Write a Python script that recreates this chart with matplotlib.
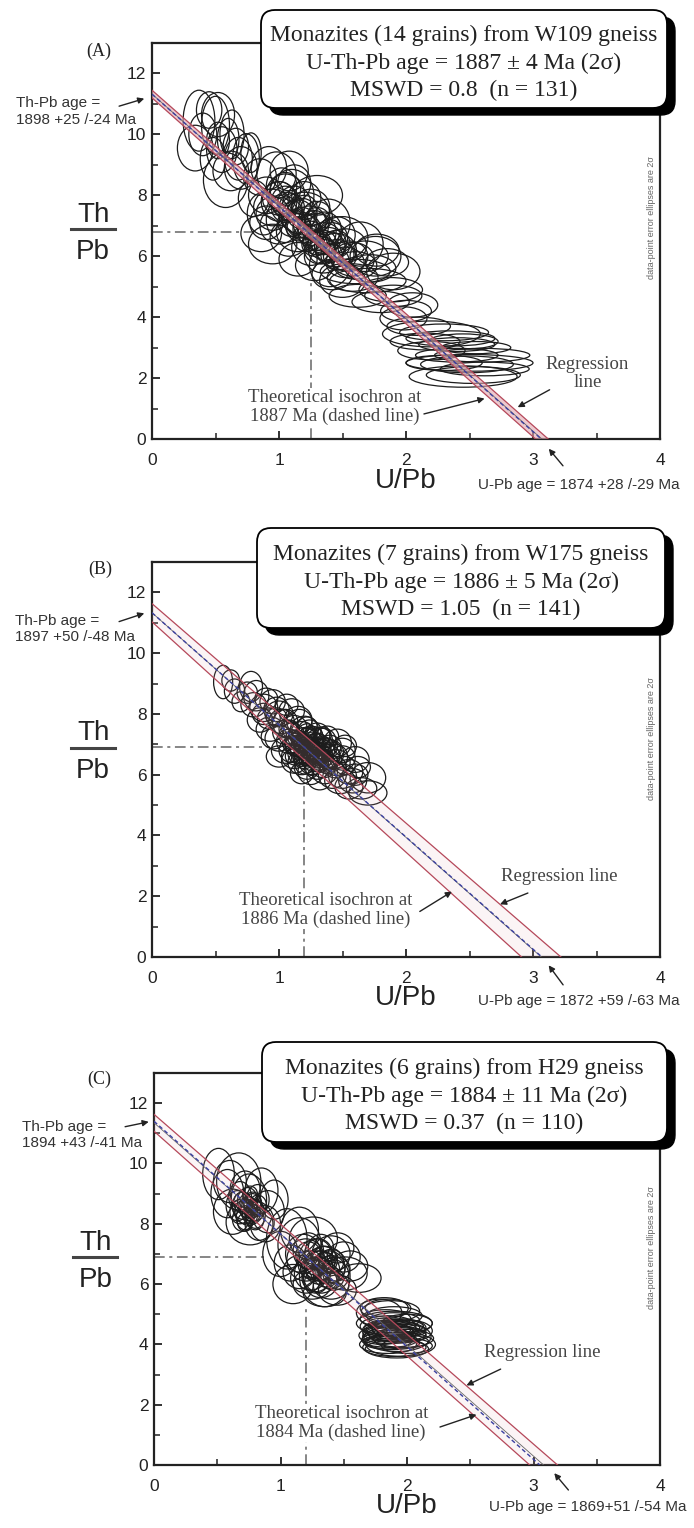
import matplotlib
matplotlib.use("Agg")
import matplotlib.pyplot as plt
from matplotlib.patches import Ellipse, FancyBboxPatch
from matplotlib.transforms import IdentityTransform

SERIF = "Liberation Serif"
SANS = "Liberation Sans"
W, H = 694, 1528

# ---- panel A: W109 gneiss, 2-sigma ellipses (centre x, centre y, full width, full height)
a_cx = [0.37, 0.52, 0.50, 0.63, 0.60, 0.34, 0.58, 0.74, 0.78, 0.66, 0.48, 0.98, 1.08, 0.90, 1.00, 1.10,
        1.20, 1.30, 0.86, 0.95, 0.88, 1.05, 1.15, 1.39, 1.50, 1.64, 1.76, 1.90, 1.40, 1.15, 1.50, 1.25,
        1.35, 1.45, 1.20, 1.02, 1.28, 1.55, 1.77, 1.60, 1.70, 1.62, 1.80, 1.98, 2.30, 2.40, 2.20, 2.30,
        2.48, 2.53, 2.55, 2.50, 2.45, 2.20, 2.45, 2.05, 1.88, 0.70, 1.10, 1.40, 1.32, 1.18, 1.05, 1.48, 0.80,
        0.45, 0.40, 0.55, 0.68, 0.62, 0.52, 0.85, 0.92, 1.12, 0.95, 1.05, 1.15, 1.00, 0.90, 1.25, 1.08,
        1.30, 1.38, 1.45, 1.52, 1.58, 1.35, 1.28, 1.42, 1.68, 1.72, 1.58, 1.85, 1.30, 1.22, 2.00, 1.90,
        2.10, 2.35, 2.60, 2.40, 2.62, 2.15,
        1.00, 1.06, 1.12, 1.18, 1.24, 1.30, 1.36, 1.42, 1.10, 1.16, 1.22, 1.28, 1.34, 1.40, 1.46, 1.05,
        0.95, 1.15, 1.25, 1.35, 1.45, 1.20, 1.30, 1.52, 1.60]
a_cy = [10.45, 10.65, 10.30, 10.00, 9.85, 9.55, 8.50, 9.20, 9.40, 9.60, 9.20, 8.70, 8.80, 8.00, 7.80, 8.00,
        7.40, 8.00, 6.75, 6.40, 7.40, 7.20, 6.80, 7.10, 6.60, 6.40, 6.00, 5.50, 5.70, 5.90, 5.20, 6.30,
        6.60, 6.20, 7.90, 8.30, 7.00, 6.00, 6.20, 5.50, 5.20, 4.70, 4.50, 3.96, 3.50, 3.10, 2.90, 2.50,
        2.45, 2.10, 3.00, 2.50, 2.05, 3.45, 3.20, 4.40, 4.90, 8.90, 7.60, 6.80, 6.20, 7.10, 7.80, 6.00, 7.90,
        10.80, 10.00, 9.50, 9.20, 8.80, 9.80, 8.60, 8.90, 8.40, 7.60, 8.05, 7.30, 7.00, 7.10, 7.60, 6.60,
        6.80, 6.40, 6.70, 6.35, 5.90, 6.00, 5.70, 5.40, 6.00, 5.60, 5.30, 5.80, 6.45, 6.90, 4.20, 4.70,
        3.70, 3.30, 2.75, 2.75, 2.30, 3.20,
        7.90, 7.60, 7.75, 7.40, 7.10, 7.30, 6.90, 6.60, 7.10, 6.90, 6.60, 6.40, 6.20, 6.30, 6.05, 8.20,
        7.40, 7.00, 6.75, 6.45, 6.40, 7.60, 7.20, 5.80, 5.70]
a_w = [0.25, 0.26, 0.22, 0.19, 0.17, 0.28, 0.35, 0.21, 0.16, 0.20, 0.20, 0.31, 0.30, 0.28, 0.28, 0.35,
       0.40, 0.40, 0.32, 0.38, 0.26, 0.30, 0.34, 0.34, 0.40, 0.36, 0.40, 0.42, 0.32, 0.30, 0.36, 0.30,
       0.28, 0.32, 0.26, 0.24, 0.22, 0.30, 0.35, 0.55, 0.60, 0.45, 0.45, 0.37, 0.70, 0.60, 0.53, 0.60,
       0.73, 0.74, 0.55, 1.00, 0.85, 0.77, 0.55, 0.40, 0.50, 0.26, 0.20, 0.20, 0.24, 0.24, 0.22, 0.26, 0.24,
       0.20, 0.22, 0.24, 0.22, 0.28, 0.18, 0.26, 0.28, 0.26, 0.30, 0.30, 0.26, 0.30, 0.26, 0.30, 0.30,
       0.30, 0.30, 0.30, 0.34, 0.34, 0.30, 0.30, 0.32, 0.36, 0.40, 0.40, 0.34, 0.22, 0.22, 0.40, 0.45,
       0.50, 0.70, 0.75, 0.65, 0.70, 0.55,
       0.26, 0.24, 0.26, 0.24, 0.26, 0.24, 0.26, 0.24, 0.22, 0.20, 0.22, 0.20, 0.22, 0.24, 0.26, 0.24,
       0.26, 0.20, 0.20, 0.20, 0.22, 0.20, 0.20, 0.30, 0.34]
a_h = [2.00, 1.45, 1.90, 1.60, 1.35, 1.50, 1.80, 1.65, 1.30, 1.20, 1.40, 1.45, 1.30, 1.20, 1.30, 1.70,
       1.40, 1.30, 1.20, 1.30, 1.40, 1.50, 1.30, 1.55, 1.40, 1.45, 1.30, 1.20, 1.40, 1.10, 1.10, 1.20,
       1.00, 1.10, 1.10, 1.20, 1.00, 1.00, 1.05, 0.80, 0.80, 0.75, 0.70, 0.76, 0.55, 0.45, 0.60, 0.50,
       0.55, 0.55, 0.40, 0.55, 0.70, 0.85, 0.50, 0.80, 0.80, 1.40, 0.90, 0.80, 0.90, 1.00, 1.00, 0.90, 1.20,
       1.20, 1.40, 1.50, 1.40, 1.30, 1.20, 1.20, 1.40, 1.20, 1.20, 1.30, 1.10, 1.20, 1.10, 1.20, 1.20,
       1.20, 1.10, 1.20, 1.10, 1.10, 1.10, 1.00, 1.00, 1.00, 0.90, 0.90, 0.90, 0.80, 0.90, 0.70, 0.70,
       0.60, 0.50, 0.45, 0.45, 0.45, 0.55,
       1.10, 1.00, 1.10, 1.00, 1.10, 1.00, 1.10, 1.00, 0.90, 0.80, 0.90, 0.80, 0.90, 1.00, 1.00, 1.10,
       1.10, 0.80, 0.80, 0.80, 0.90, 0.80, 0.80, 1.00, 0.90]

# ---- panel B: W175 gneiss
b_cx = [0.56, 0.78, 0.82, 0.70, 0.88, 0.95, 0.85, 1.00, 1.05, 0.93, 1.10, 1.15, 1.00, 1.10, 1.20, 1.25,
        1.15, 1.30, 1.22, 1.35, 1.28, 1.40, 1.18, 1.35, 1.45, 1.50, 1.42, 1.55, 1.60, 1.70, 1.70, 1.55,
        1.48, 1.32, 1.25, 1.12, 1.05, 1.20, 1.25, 1.30, 1.20, 1.28, 1.33, 1.18, 1.38, 1.08, 0.98, 0.90,
        1.46, 1.52, 0.75, 1.60, 1.12, 1.23, 1.40,
        1.05, 1.12, 1.18, 1.24, 1.30, 1.08, 1.14, 1.20, 1.26, 1.32, 1.38, 1.10, 1.16, 1.22, 1.28, 1.34,
        1.40, 1.44, 1.12, 1.20, 1.26, 1.32, 1.38, 1.22, 1.30, 1.36, 1.44, 1.50, 1.16, 1.02, 0.96, 0.92,
        0.98, 0.88, 0.80, 1.06, 1.50, 1.58, 1.62, 1.65, 1.52, 1.18, 1.00, 0.65, 0.62, 1.24, 1.30, 1.16,
        1.36, 1.22,
        1.14, 1.18, 1.22, 1.26, 1.30, 1.34, 1.16, 1.20, 1.24, 1.28, 1.32, 1.36, 1.12, 1.18, 1.24, 1.30,
        1.36, 1.40, 1.20, 1.26, 1.32, 1.38, 1.22, 1.28, 1.34, 1.15, 1.25, 1.35, 1.10, 1.42]
b_cy = [9.05, 8.90, 8.60, 8.40, 8.20, 8.40, 7.80, 8.00, 7.70, 7.50, 8.10, 7.80, 7.20, 7.30, 7.50, 7.20,
        7.00, 6.90, 6.70, 7.10, 6.50, 6.70, 6.40, 6.30, 6.40, 6.80, 6.00, 6.10, 6.50, 5.90, 5.40, 5.60,
        5.80, 5.90, 6.10, 6.60, 6.80, 7.00, 6.80, 6.70, 6.90, 7.00, 6.60, 6.60, 6.90, 7.50, 7.90, 8.50,
        7.05, 6.30, 8.70, 6.00, 7.20, 7.30, 6.40,
        7.40, 7.55, 7.35, 7.45, 7.30, 7.10, 6.95, 7.15, 7.05, 7.15, 7.25, 6.80, 6.70, 6.85, 6.75, 6.85,
        6.95, 6.60, 6.45, 6.55, 6.40, 6.50, 6.60, 6.25, 6.20, 6.10, 6.25, 6.55, 7.75, 7.75, 7.25, 7.85,
        8.15, 8.00, 8.30, 8.30, 5.95, 5.80, 6.25, 5.55, 6.95, 6.05, 6.60, 8.75, 9.10, 6.60, 6.95, 7.20,
        6.40, 7.60,
        7.20, 7.10, 7.25, 7.00, 7.10, 6.95, 6.85, 6.75, 6.90, 6.65, 6.80, 6.70, 6.60, 6.50, 6.55, 6.45,
        6.55, 6.45, 6.30, 6.20, 6.35, 6.25, 7.40, 7.35, 7.30, 6.95, 6.95, 6.60, 7.00, 6.80]
b_w = [0.15, 0.18, 0.20, 0.14, 0.22, 0.20, 0.20, 0.22, 0.20, 0.22, 0.20, 0.22, 0.22, 0.20, 0.22, 0.20,
       0.20, 0.22, 0.20, 0.20, 0.20, 0.22, 0.22, 0.20, 0.22, 0.20, 0.22, 0.22, 0.22, 0.28, 0.30, 0.22,
       0.24, 0.20, 0.20, 0.20, 0.22, 0.16, 0.16, 0.16, 0.14, 0.14, 0.14, 0.14, 0.16, 0.16, 0.16, 0.18,
       0.22, 0.16, 0.16, 0.20, 0.14, 0.14, 0.14,
       0.20, 0.20, 0.20, 0.18, 0.20, 0.20, 0.18, 0.20, 0.18, 0.20, 0.18, 0.20, 0.18, 0.20, 0.18, 0.20,
       0.18, 0.20, 0.20, 0.18, 0.20, 0.18, 0.20, 0.20, 0.18, 0.20, 0.18, 0.20, 0.20, 0.20, 0.20, 0.18,
       0.20, 0.18, 0.20, 0.18, 0.22, 0.22, 0.20, 0.24, 0.18, 0.18, 0.20, 0.16, 0.14, 0.14, 0.14, 0.14,
       0.14, 0.16,
       0.14, 0.12, 0.14, 0.12, 0.14, 0.12, 0.14, 0.12, 0.14, 0.12, 0.14, 0.12, 0.14, 0.12, 0.14, 0.12,
       0.14, 0.12, 0.14, 0.12, 0.14, 0.12, 0.14, 0.12, 0.14, 0.10, 0.10, 0.10, 0.14, 0.14]
b_h = [1.10, 1.00, 1.00, 0.66, 0.90, 0.80, 0.80, 0.85, 0.90, 0.80, 0.80, 0.90, 0.85, 0.80, 0.85, 0.80,
       0.80, 0.90, 0.80, 0.85, 0.80, 0.90, 0.80, 0.80, 0.85, 0.80, 0.90, 0.80, 0.85, 1.00, 0.80, 0.80,
       0.85, 0.80, 0.85, 0.80, 0.85, 0.60, 0.60, 0.60, 0.50, 0.50, 0.50, 0.50, 0.60, 0.60, 0.60, 0.70,
       0.90, 0.60, 0.70, 0.70, 0.50, 0.50, 0.50,
       0.80, 0.80, 0.80, 0.70, 0.80, 0.80, 0.70, 0.80, 0.70, 0.80, 0.70, 0.80, 0.70, 0.80, 0.70, 0.80,
       0.70, 0.80, 0.80, 0.70, 0.80, 0.70, 0.80, 0.80, 0.70, 0.80, 0.70, 0.80, 0.80, 0.80, 0.80, 0.70,
       0.80, 0.70, 0.80, 0.70, 0.80, 0.80, 0.70, 0.70, 0.70, 0.70, 0.70, 0.80, 0.70, 0.50, 0.50, 0.50,
       0.50, 0.60,
       0.55, 0.45, 0.55, 0.45, 0.55, 0.45, 0.55, 0.45, 0.55, 0.45, 0.55, 0.45, 0.55, 0.45, 0.55, 0.45,
       0.55, 0.45, 0.55, 0.45, 0.55, 0.45, 0.55, 0.45, 0.55, 0.40, 0.40, 0.40, 0.55, 0.55]

# ---- panel C: H29 gneiss
c_cx = [0.51, 0.67, 0.75, 0.62, 0.76, 0.58, 0.85, 0.90, 0.70, 0.75, 0.80, 0.72, 0.78, 0.68, 0.83, 0.95,
        1.05, 1.15, 1.26, 1.35, 1.32, 1.51, 1.62, 1.10, 1.20, 1.00, 1.40, 1.25, 1.30, 1.35, 1.28, 1.40,
        1.22, 1.45, 1.15, 1.50, 1.35, 1.32, 1.40, 1.25, 1.15,
        1.78, 1.87, 1.90, 1.92, 1.95, 1.85, 1.85, 1.85, 1.90, 1.95, 1.83, 2.00, 1.85, 1.90, 2.02, 1.82, 1.92,
        0.72, 0.78, 0.74, 0.80, 0.70, 0.76, 0.66, 0.82, 0.60, 0.88, 0.72, 1.18, 1.28, 1.38, 1.24, 1.32,
        1.42, 1.20, 1.30, 1.08, 1.45, 1.55, 1.40, 1.35, 1.27, 1.88, 1.92, 1.86, 1.95, 1.90, 1.97, 1.80,
        2.00, 1.85,
        0.74, 0.78, 0.70, 0.76, 0.82, 0.72, 0.68, 0.80, 1.30, 1.36, 1.24, 1.40, 1.28, 1.34, 1.22, 1.44,
        1.88, 1.92, 1.86, 1.94, 1.90, 1.84, 1.96, 1.88]
c_cy = [9.65, 9.40, 8.80, 8.40, 8.05, 9.00, 9.10, 8.40, 8.60, 8.50, 8.30, 8.20, 8.70, 8.90, 8.00, 8.80,
        7.50, 7.30, 7.50, 6.25, 6.40, 6.35, 6.20, 6.00, 6.80, 7.00, 7.00, 6.00, 6.60, 6.80, 6.20, 6.50,
        7.10, 5.80, 6.40, 6.90, 5.70, 7.20, 6.20, 6.50, 7.80,
        5.05, 5.10, 4.70, 4.26, 4.00, 4.00, 4.60, 4.40, 4.50, 4.30, 4.85, 4.70, 4.20, 3.90, 4.45, 5.20, 3.85,
        8.40, 8.60, 8.75, 8.45, 8.15, 8.30, 8.60, 8.80, 9.40, 8.00, 9.10, 7.00, 6.90, 6.55, 6.35, 6.05,
        6.30, 6.20, 7.00, 6.70, 7.20, 6.60, 5.95, 6.70, 6.55, 4.55, 4.35, 4.15, 4.55, 4.95, 4.20, 4.30,
        3.95, 5.20,
        8.55, 8.35, 8.70, 8.95, 8.60, 8.05, 8.40, 8.15, 6.45, 6.30, 6.65, 6.75, 6.15, 6.85, 6.95, 6.50,
        4.40, 4.60, 4.25, 4.45, 4.80, 4.50, 4.10, 4.05]
c_w = [0.25, 0.35, 0.28, 0.30, 0.38, 0.26, 0.26, 0.26, 0.16, 0.14, 0.16, 0.14, 0.14, 0.18, 0.22, 0.22,
       0.32, 0.34, 0.38, 0.40, 0.30, 0.35, 0.35, 0.32, 0.30, 0.28, 0.30, 0.30, 0.22, 0.20, 0.22, 0.22,
       0.24, 0.30, 0.26, 0.26, 0.34, 0.20, 0.20, 0.18, 0.30,
       0.36, 0.46, 0.60, 0.54, 0.55, 0.45, 0.44, 0.40, 0.35, 0.40, 0.40, 0.40, 0.40, 0.50, 0.36, 0.38, 0.50,
       0.16, 0.14, 0.16, 0.14, 0.16, 0.12, 0.18, 0.18, 0.26, 0.24, 0.24, 0.28, 0.26, 0.26, 0.26, 0.26,
       0.24, 0.24, 0.22, 0.26, 0.26, 0.28, 0.28, 0.16, 0.16, 0.44, 0.46, 0.44, 0.40, 0.44, 0.48, 0.36,
       0.40, 0.36,
       0.14, 0.12, 0.14, 0.12, 0.14, 0.12, 0.16, 0.14, 0.20, 0.20, 0.20, 0.20, 0.20, 0.20, 0.20, 0.22,
       0.40, 0.42, 0.40, 0.42, 0.40, 0.38, 0.42, 0.44]
c_h = [1.70, 1.90, 1.70, 1.50, 1.50, 1.60, 1.50, 1.40, 0.90, 0.80, 0.90, 0.80, 0.70, 1.00, 1.10, 1.30,
       2.00, 1.80, 1.45, 2.00, 1.40, 1.10, 0.95, 1.30, 1.40, 1.50, 1.20, 1.00, 1.00, 0.90, 0.90, 0.90,
       1.20, 1.00, 1.10, 1.00, 0.90, 0.90, 0.70, 0.70, 1.50,
       0.90, 0.70, 0.80, 1.00, 0.80, 0.60, 0.70, 0.60, 0.50, 0.50, 0.60, 0.60, 0.70, 0.60, 0.70, 0.70, 0.60,
       0.80, 0.80, 0.90, 0.70, 0.80, 0.60, 1.00, 1.00, 1.40, 1.20, 1.30, 1.30, 1.20, 1.10, 1.10, 1.00,
       1.00, 1.00, 1.00, 1.20, 1.00, 1.00, 0.90, 0.70, 0.70, 0.50, 0.50, 0.50, 0.60, 0.60, 0.60, 0.60,
       0.50, 0.60,
       0.70, 0.60, 0.70, 0.60, 0.70, 0.60, 0.80, 0.70, 0.90, 0.80, 0.90, 0.80, 0.90, 0.80, 0.90, 0.80,
       0.45, 0.45, 0.45, 0.45, 0.50, 0.45, 0.45, 0.45]

# regression envelope and theoretical isochron: (Th/Pb intercept, U/Pb intercept)
a_env_hi, a_env_lo, a_iso = (11.45, 3.12), (11.20, 3.02), (11.32, 3.065)
b_env_hi, b_env_lo, b_iso = (11.63, 3.22), (11.03, 2.91), (11.33, 3.07)
c_env_hi, c_env_lo, c_iso = (11.63, 3.19), (11.07, 2.97), (11.40, 3.05)

# dash-dot reading lines: (U/Pb at age, Th/Pb at age, end of horizontal, top of vertical)
a_guide = (1.25, 6.78, 0.83, 5.30)
b_guide = (1.20, 6.90, 0.93, 5.84)
c_guide = (1.20, 6.91, 0.88, 5.20)

a_box = "Monazites (14 grains) from W109 gneiss\nU-Th-Pb age = 1887 \u00b1 4 Ma (2\u03c3)\nMSWD = 0.8  (n = 131)"
b_box = "Monazites (7 grains) from W175 gneiss\nU-Th-Pb age = 1886 \u00b1 5 Ma (2\u03c3)\nMSWD = 1.05  (n = 141)"
c_box = "Monazites (6 grains) from H29 gneiss\nU-Th-Pb age = 1884 \u00b1 11 Ma (2\u03c3)\nMSWD = 0.37  (n = 110)"

a_thpb = "Th-Pb age =\n1898 +25 /-24 Ma"
b_thpb = "Th-Pb age =\n1897 +50 /-48 Ma"
c_thpb = "Th-Pb age =\n1894 +43 /-41 Ma"
a_upb = "U-Pb age = 1874 +28 /-29 Ma"
b_upb = "U-Pb age = 1872 +59 /-63 Ma"
c_upb = "U-Pb age = 1869+51 /-54 Ma"
a_iso_txt = "Theoretical isochron at\n1887 Ma (dashed line)"
b_iso_txt = "Theoretical isochron at\n1886 Ma (dashed line)"
c_iso_txt = "Theoretical isochron at\n1884 Ma (dashed line)"
a_reg_txt = "Regression\nline"
b_reg_txt = "Regression line"
c_reg_txt = "Regression line"

for arrs in [(a_cx, a_cy, a_w, a_h), (b_cx, b_cy, b_w, b_h), (c_cx, c_cy, c_w, c_h)]:
    assert len(set(len(v) for v in arrs)) == 1, [len(v) for v in arrs]


def fig_box(fig, x0, y0, x1, y1, text):
    # pixel coordinates measured from the top, like the scan
    w, h = x1 - x0, y1 - y0
    shadow = FancyBboxPatch((x0 + 8, H - y1 - 7), w, h, boxstyle="round,pad=0,rounding_size=14",
                            transform=IdentityTransform(), facecolor="black", edgecolor="black", zorder=5)
    box = FancyBboxPatch((x0, H - y1), w, h, boxstyle="round,pad=0,rounding_size=14",
                         transform=IdentityTransform(), facecolor="white", edgecolor="black", lw=1.3, zorder=6)
    fig.patches.extend([shadow, box])
    fig.text((x0 + x1) / 2 / W, 1 - ((y0 + y1) / 2 + 4) / H, text, ha="center", va="center", fontsize=17,
             family=SERIF, color="#222222", linespacing=1.4, zorder=7)


def draw_panel(ax, tag, cx, cy, w, h, env_hi, env_lo, iso, guide, thpb, upb, iso_txt, reg_txt, pos, band):
    ax.set_xlim(0, 4)
    ax.set_ylim(0, 13)
    for s in ax.spines.values():
        s.set_linewidth(1.6)
        s.set_color("#222222")

    # guide lines
    ax.plot([0, guide[2]], [guide[1], guide[1]], color="#666666", lw=1.1, dashes=(7, 3, 2, 3), zorder=1)
    ax.plot([guide[0], guide[0]], [0, guide[3]], color="#666666", lw=1.1, dashes=(7, 3, 2, 3), zorder=1)

    for x, y, ww, hh in zip(cx, cy, w, h):
        ax.add_patch(Ellipse((x, y), ww, hh, facecolor="none", edgecolor="#1c1c1c", lw=0.9, zorder=2))

    # regression envelope
    ax.fill([0, env_hi[1], env_lo[1], 0], [env_hi[0], 0, 0, env_lo[0]], color="#e3a5b0", alpha=band,
            lw=0, zorder=3)
    ax.plot([0, env_hi[1]], [env_hi[0], 0], color="#b5485a", lw=0.9, zorder=4)
    ax.plot([0, env_lo[1]], [env_lo[0], 0], color="#b5485a", lw=0.9, zorder=4)
    ax.plot([0, (env_hi[1] + env_lo[1]) / 2], [(env_hi[0] + env_lo[0]) / 2, 0], color="#666666",
            lw=0.6, zorder=4)
    ax.plot([0, iso[1]], [iso[0], 0], color="#3a3fa0", lw=1.0, dashes=(3, 2), zorder=5)

    ax.set_xticks([0, 1, 2, 3, 4])
    ax.set_yticks([0, 2, 4, 6, 8, 10, 12])
    ax.set_xticks([0.5, 1.5, 2.5, 3.5], minor=True)
    ax.set_yticks([1, 3, 5, 7, 9, 11], minor=True)
    ax.tick_params(which="both", direction="in", top=False, right=False, colors="#222222")
    ax.tick_params(which="major", length=6, width=1.3, labelsize=12.5)
    ax.tick_params(which="minor", length=4, width=1.1)
    ax.tick_params(axis="x", pad=10)
    ax.tick_params(axis="y", pad=4)
    for lab in ax.get_xticklabels() + ax.get_yticklabels():
        lab.set_family(SANS)

    # axis titles
    ax.text(0.5, -0.105, "U/Pb", transform=ax.transAxes, ha="center", va="center", fontsize=20,
            family=SANS, color="#222222")
    ax.text(-0.116, 0.566, "Th", transform=ax.transAxes, ha="center", va="center", fontsize=20,
            family=SANS, color="#222222")
    ax.text(-0.116, 0.472, "Pb", transform=ax.transAxes, ha="center", va="center", fontsize=20,
            family=SANS, color="#222222")
    ax.plot([-0.16, -0.073], [0.53, 0.53], transform=ax.transAxes, color="#444444", lw=2.2,
            clip_on=False)

    ax.text(pos["tag"][0], pos["tag"][1], tag, ha="center", va="center", fontsize=13, family=SERIF,
            color="#222222", clip_on=False)
    ax.text(3.93, pos["side"], "data-point error ellipses are 2\u03c3", rotation=90, ha="center",
            va="center", fontsize=6.5, family=SANS, color="#666666")

    arrow = dict(arrowstyle="-|>", color="#222222", lw=1.0, mutation_scale=9)
    ax.annotate("", xy=pos["thpb_head"], xytext=pos["thpb_tail"], arrowprops=arrow, annotation_clip=False)
    ax.text(pos["thpb_txt"][0], pos["thpb_txt"][1], thpb, ha="left", va="center", fontsize=11,
            family=SANS, color="#333333", linespacing=1.2, clip_on=False)
    ax.annotate("", xy=pos["upb_head"], xytext=pos["upb_tail"], arrowprops=arrow, annotation_clip=False)
    ax.text(pos["upb_txt"][0], pos["upb_txt"][1], upb, ha="left", va="center", fontsize=11,
            family=SANS, color="#333333", clip_on=False)
    ax.annotate("", xy=pos["reg_head"], xytext=pos["reg_tail"], arrowprops=arrow, annotation_clip=False,
                zorder=6)
    ax.text(pos["reg_txt"][0], pos["reg_txt"][1], reg_txt, ha="center", va="center", fontsize=13.5,
            family=SERIF, color="#444444", linespacing=1.1)
    ax.annotate("", xy=pos["iso_head"], xytext=pos["iso_tail"], arrowprops=arrow, annotation_clip=False,
                zorder=6)
    ax.text(pos["iso_txt"][0], pos["iso_txt"][1], iso_txt, ha="center", va="center", fontsize=13.5,
            family=SERIF, color="#444444", linespacing=1.1, zorder=6,
            bbox=dict(facecolor="white", edgecolor="none", pad=1))


fig = plt.figure(figsize=(W / 100, H / 100), dpi=100)

ax_a = fig.add_axes([152 / W, 1 - 439 / H, 508 / W, 396 / H])
ax_b = fig.add_axes([152 / W, 1 - 957 / H, 508 / W, 395 / H])
ax_c = fig.add_axes([154 / W, 1 - 1465 / H, 506 / W, 392 / H])

pos_a = {"tag": (-0.42, 12.72), "side": 7.26,
         "thpb_txt": (-1.07, 10.75), "thpb_tail": (-0.28, 10.9), "thpb_head": (-0.04, 11.2),
         "upb_txt": (2.57, -1.51), "upb_tail": (3.25, -0.95), "upb_head": (3.11, -0.25),
         "reg_txt": (3.43, 2.15), "reg_tail": (3.15, 1.66), "reg_head": (2.86, 1.0),
         "iso_txt": (1.44, 1.05), "iso_tail": (2.12, 0.8), "iso_head": (2.64, 1.35)}
pos_b = {"tag": (-0.41, 12.75), "side": 7.2,
         "thpb_txt": (-1.08, 10.79), "thpb_tail": (-0.28, 11.01), "thpb_head": (-0.04, 11.34),
         "upb_txt": (2.57, -1.45), "upb_tail": (3.25, -0.99), "upb_head": (3.11, -0.2),
         "reg_txt": (3.21, 2.64), "reg_tail": (2.98, 2.14), "reg_head": (2.72, 1.7),
         "iso_txt": (1.37, 1.55), "iso_tail": (2.09, 1.45), "iso_head": (2.38, 2.2)}
pos_c = {"tag": (-0.43, 12.8), "side": 7.2,
         "thpb_txt": (-1.04, 10.94), "thpb_tail": (-0.25, 11.2), "thpb_head": (-0.02, 11.4),
         "upb_txt": (2.65, -1.40), "upb_tail": (3.29, -0.9), "upb_head": (3.15, -0.2),
         "reg_txt": (3.07, 3.72), "reg_tail": (2.76, 3.22), "reg_head": (2.45, 2.6),
         "iso_txt": (1.48, 1.4), "iso_tail": (2.24, 1.23), "iso_head": (2.57, 1.7)}

draw_panel(ax_a, "(A)", a_cx, a_cy, a_w, a_h, a_env_hi, a_env_lo, a_iso, a_guide,
           a_thpb, a_upb, a_iso_txt, a_reg_txt, pos_a, 0.6)
draw_panel(ax_b, "(B)", b_cx, b_cy, b_w, b_h, b_env_hi, b_env_lo, b_iso, b_guide,
           b_thpb, b_upb, b_iso_txt, b_reg_txt, pos_b, 0.12)
draw_panel(ax_c, "(C)", c_cx, c_cy, c_w, c_h, c_env_hi, c_env_lo, c_iso, c_guide,
           c_thpb, c_upb, c_iso_txt, c_reg_txt, pos_c, 0.12)

fig_box(fig, 261, 10, 667, 108, a_box)
fig_box(fig, 257, 528, 665, 628, b_box)
fig_box(fig, 262, 1042, 667, 1142, c_box)

fig.savefig("out.png", dpi=100)
